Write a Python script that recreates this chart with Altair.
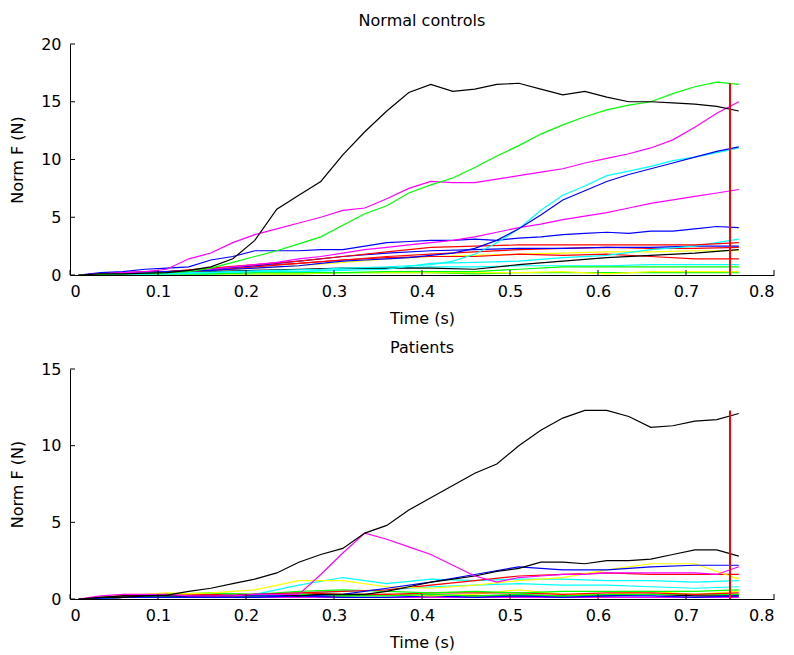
import altair as alt
import pandas as pd

# ---------------- time grids (s) ----------------
t_fine = [0.01, 0.035, 0.06, 0.085, 0.11, 0.135, 0.16, 0.185, 0.21, 0.235,
          0.26, 0.285, 0.31, 0.335, 0.36, 0.385, 0.41, 0.435, 0.46, 0.485,
          0.51, 0.535, 0.56, 0.585, 0.61, 0.635, 0.66, 0.685, 0.71, 0.735, 0.76]
t_coarse = [0.01, 0.06, 0.11, 0.16, 0.21, 0.26, 0.31, 0.36, 0.41, 0.46,
            0.51, 0.56, 0.61, 0.66, 0.71, 0.76]

x_ticks = [0, 0.1, 0.2, 0.3, 0.4, 0.5, 0.6, 0.7, 0.8]
y_ticks_top = [0, 5, 10, 15, 20]
y_ticks_bottom = [0, 5, 10, 15]

vline_t = 0.75
vline_top_nc = 16.6
vline_top_pt = 12.3

# ---------------- Normal controls ----------------
nc_k1 = [0, 0.1, 0.1, 0.15, 0.2, 0.4, 0.7, 1.4, 3.0, 5.7, 6.9, 8.1, 10.4, 12.4, 14.2,
         15.8, 16.5, 15.9, 16.1, 16.5, 16.6, 16.1, 15.6, 15.9, 15.4, 15.0, 15.0, 14.9,
         14.8, 14.6, 14.2]
nc_g1 = [0, 0.05, 0.1, 0.15, 0.2, 0.3, 0.6, 1.1, 1.6, 2.1, 2.7, 3.3, 4.3, 5.3, 6.0,
         7.1, 7.8, 8.4, 9.3, 10.3, 11.2, 12.2, 13.0, 13.7, 14.3, 14.7, 15.0, 15.7,
         16.3, 16.7, 16.5]
nc_m1 = [0, 0.1, 0.2, 0.3, 0.5, 1.4, 1.9, 2.8, 3.5, 4.0, 4.5, 5.0, 5.6, 5.8, 6.6,
         7.5, 8.1, 8.0, 8.0, 8.3, 8.6, 8.9, 9.2, 9.7, 10.1, 10.5, 11.0, 11.7, 12.8,
         14.0, 15.0]
nc_c1 = [0, 0.05, 0.1, 0.1, 0.15, 0.2, 0.25, 0.3, 0.35, 0.4, 0.45, 0.5, 0.6, 0.65,
         0.7, 0.8, 0.9, 1.2, 1.8, 2.8, 4.0, 5.6, 6.9, 7.7, 8.6, 9.0, 9.4, 9.9, 10.2,
         10.6, 11.0]
nc_b1 = [0, 0.1, 0.15, 0.2, 0.3, 0.35, 0.4, 0.5, 0.6, 0.7, 0.8, 1.0, 1.2, 1.3, 1.4,
         1.5, 1.7, 1.9, 2.3, 3.0, 4.0, 5.2, 6.5, 7.3, 8.1, 8.7, 9.2, 9.7, 10.2, 10.7,
         11.1]
nc_m2 = [0, 0.1, 0.15, 0.2, 0.25, 0.3, 0.5, 0.7, 0.9, 1.1, 1.4, 1.6, 1.9, 2.2, 2.4,
         2.6, 2.8, 3.0, 3.3, 3.7, 4.1, 4.4, 4.8, 5.1, 5.4, 5.8, 6.2, 6.5, 6.8, 7.1,
         7.4]
nc_b2 = [0, 0.2, 0.3, 0.5, 0.6, 0.7, 1.3, 1.6, 2.1, 2.1, 2.1, 2.2, 2.2, 2.5, 2.8,
         2.9, 3.0, 3.0, 3.1, 3.0, 3.2, 3.3, 3.5, 3.6, 3.7, 3.6, 3.8, 3.8, 4.0, 4.2,
         4.1]
# minor traces (coarse grid)
nc_r1 = [0, 0.2, 0.3, 0.6, 0.9, 1.2, 1.6, 2.0, 2.4, 2.5, 2.6, 2.6, 2.6, 2.6, 2.6, 2.8]
nc_r2 = [0, 0.2, 0.3, 0.5, 0.8, 1.0, 1.3, 1.5, 1.6, 1.6, 1.8, 1.7, 1.8, 1.6, 1.4, 1.4]
nc_r3 = [0, 0.1, 0.2, 0.4, 0.7, 1.0, 1.3, 1.6, 1.8, 2.0, 2.2, 2.3, 2.4, 2.3, 2.3, 2.4]
nc_k2 = [0, 0.1, 0.2, 0.3, 0.4, 0.5, 0.6, 0.6, 0.6, 0.5, 0.9, 1.2, 1.5, 1.7, 1.9, 2.2]
nc_b3 = [0, 0.2, 0.3, 0.5, 0.8, 1.2, 1.6, 1.9, 2.1, 2.2, 2.3, 2.3, 2.4, 2.4, 2.5, 2.5]
nc_c2 = [0, 0.1, 0.1, 0.2, 0.3, 0.3, 0.4, 0.5, 1.0, 1.1, 1.2, 1.5, 1.7, 2.2, 2.5, 3.1]
nc_y1 = [0, 0.1, 0.2, 0.4, 0.6, 0.8, 1.1, 1.4, 1.6, 1.7, 1.8, 1.9, 2.0, 2.0, 2.1, 2.1]
nc_g2 = [0, 0.05, 0.1, 0.1, 0.2, 0.2, 0.2, 0.3, 0.3, 0.3, 0.5, 0.7, 0.7, 0.7, 0.7, 0.7]
nc_y2 = [0, 0.05, 0.1, 0.1, 0.1, 0.1, 0.2, 0.2, 0.2, 0.2, 0.2, 0.3, 0.1, 0.3, 0.3, 0.3]
nc_c3 = [0, 0.1, 0.1, 0.1, 0.2, 0.3, 0.5, 0.6, 0.7, 0.7, 0.8, 0.8, 0.8, 0.9, 0.9, 0.9]
nc_g3 = [0, 0, 0.1, 0.1, 0.1, 0.1, 0.2, 0.2, 0.2, 0.1, 0.2, 0.2, 0.2, 0.2, 0.2, 0.2]

# ---------------- Patients ----------------
pt_k1 = [0, 0.1, 0.2, 0.2, 0.25, 0.5, 0.7, 1.0, 1.3, 1.7, 2.4, 2.9, 3.3, 4.3, 4.8,
         5.8, 6.6, 7.4, 8.2, 8.8, 10.0, 11.0, 11.8, 12.3, 12.3, 11.9, 11.2, 11.3,
         11.6, 11.7, 12.1]
pt_m1 = [0, 0.2, 0.3, 0.3, 0.3, 0.2, 0.2, 0.2, 0.3, 0.3, 0.3, 1.6, 3.0, 4.3, 3.9,
         3.4, 2.9, 2.2, 1.5, 1.1, 1.4, 1.5, 1.6, 1.6, 1.7, 1.7, 1.7, 1.7, 1.7, 1.6,
         2.1]
pt_k2 = [0, 0.1, 0.1, 0.2, 0.2, 0.2, 0.2, 0.2, 0.3, 0.3, 0.2, 0.3, 0.3, 0.3, 0.5,
         0.8, 1.1, 1.3, 1.5, 1.8, 2.0, 2.4, 2.4, 2.3, 2.5, 2.5, 2.6, 2.9, 3.2, 3.2,
         2.8]
# minor traces (coarse grid)
pt_b1 = [0, 0.1, 0.1, 0.2, 0.2, 0.2, 0.3, 0.7, 1.1, 1.6, 2.1, 1.9, 1.9, 2.1, 2.2, 2.2]
pt_y1 = [0, 0.3, 0.3, 0.4, 0.6, 1.2, 1.2, 0.8, 0.7, 0.9, 1.2, 1.4, 1.9, 2.3, 2.3, 1.3]
pt_c1 = [0, 0.2, 0.2, 0.2, 0.3, 0.9, 1.4, 1.0, 1.3, 1.2, 1.3, 1.3, 1.2, 1.2, 1.1, 1.2]
pt_c2 = [0, 0.1, 0.2, 0.2, 0.3, 0.4, 0.5, 0.6, 0.8, 0.9, 1.0, 0.9, 0.9, 0.8, 0.7, 0.8]
pt_r1 = [0, 0.2, 0.3, 0.2, 0.3, 0.4, 0.5, 0.6, 0.9, 1.2, 1.5, 1.6, 1.7, 1.6, 1.6, 1.6]
pt_r2 = [0, 0.1, 0.2, 0.3, 0.3, 0.4, 0.3, 0.3, 0.4, 0.4, 0.4, 0.3, 0.4, 0.4, 0.3, 0.4]
pt_g1 = [0, 0.2, 0.3, 0.4, 0.3, 0.5, 0.6, 0.5, 0.4, 0.5, 0.4, 0.5, 0.5, 0.5, 0.5, 0.6]
pt_g2 = [0, 0.1, 0.2, 0.2, 0.2, 0.3, 0.2, 0.2, 0.3, 0.2, 0.3, 0.2, 0.3, 0.3, 0.3, 0.3]
pt_y2 = [0, 0.2, 0.4, 0.3, 0.3, 0.3, 0.3, 0.3, 0.2, 0.3, 0.6, 0.3, 0.3, 0.5, 0.3, 0.5]
pt_b2 = [0, 0.1, 0.1, 0.1, 0.1, 0.2, 0.1, 0.1, 0.2, 0.1, 0.2, 0.1, 0.2, 0.2, 0.1, 0.2]
pt_k3 = [0, 0.1, 0.1, 0.2, 0.2, 0.2, 0.2, 0.3, 0.2, 0.2, 0.2, 0.2, 0.2, 0.3, 0.2, 0.2]
pt_m2 = [0, 0.1, 0.1, 0.1, 0.1, 0.1, 0.1, 0.1, 0.1, 0.1, 0.1, 0.1, 0.1, 0.1, 0.1, 0.1]

# MATLAB default line colours
COL = {"b": "#0000FF", "g": "#00FF00", "r": "#FF0000", "c": "#00FFFF",
       "m": "#FF00FF", "y": "#FFFF00", "k": "#000000"}

# (series id, colour key, grid, values) — minor first so big traces are on top
nc_series = [
    ("g3", "g", t_coarse, nc_g3), ("y2", "y", t_coarse, nc_y2), ("c3", "c", t_coarse, nc_c3),
    ("g2", "g", t_coarse, nc_g2), ("y1", "y", t_coarse, nc_y1), ("r2", "r", t_coarse, nc_r2),
    ("k2", "k", t_coarse, nc_k2), ("r3", "r", t_coarse, nc_r3), ("b3", "b", t_coarse, nc_b3),
    ("c2", "c", t_coarse, nc_c2), ("r1", "r", t_coarse, nc_r1), ("b2", "b", t_fine, nc_b2),
    ("m2", "m", t_fine, nc_m2), ("c1", "c", t_fine, nc_c1), ("b1", "b", t_fine, nc_b1),
    ("m1", "m", t_fine, nc_m1), ("g1", "g", t_fine, nc_g1), ("k1", "k", t_fine, nc_k1),
]
pt_series = [
    ("m2", "m", t_coarse, pt_m2), ("k3", "k", t_coarse, pt_k3), ("b2", "b", t_coarse, pt_b2),
    ("y2", "y", t_coarse, pt_y2), ("g2", "g", t_coarse, pt_g2), ("r2", "r", t_coarse, pt_r2),
    ("g1", "g", t_coarse, pt_g1), ("c2", "c", t_coarse, pt_c2), ("c1", "c", t_coarse, pt_c1),
    ("r1", "r", t_coarse, pt_r1), ("y1", "y", t_coarse, pt_y1), ("b1", "b", t_coarse, pt_b1),
    ("k2", "k", t_fine, pt_k2), ("m1", "m", t_fine, pt_m1), ("k1", "k", t_fine, pt_k1),
]

FONT = "DejaVu Sans"
FS = 16
W = 704

# one colour mapping for both panels (series names are unique per panel)
ALL_NAMES = [f"nc{i:02d}_{s[0]}" for i, s in enumerate(nc_series)] + \
            [f"pt{i:02d}_{s[0]}" for i, s in enumerate(pt_series)]
ALL_COLORS = [COL[s[1]] for s in nc_series] + [COL[s[1]] for s in pt_series]


def to_frame(series, prefix):
    rows = []
    for idx, (sid, ck, grid, vals) in enumerate(series):
        for t, v in zip(grid, vals):
            rows.append({"t": t, "v": v, "series": f"{prefix}{idx:02d}_{sid}"})
    return pd.DataFrame(rows)


def panel(series, prefix, title, ymax, yticks, vtop, H, title_offset):
    df = to_frame(series, prefix)
    xs = alt.Scale(domain=[0, 0.8], nice=False)
    ys = alt.Scale(domain=[0, ymax], nice=False)
    xaxis = alt.Axis(values=x_ticks, format="~g", title="Time (s)", ticks=False,
                     grid=False, labelPadding=8, titlePadding=11,
                     titleFontWeight="normal")
    yaxis = alt.Axis(values=yticks, title="Norm F (N)", ticks=False, grid=False,
                     labelPadding=9, titlePadding=15, titleFontWeight="normal")

    lines = alt.Chart(df).mark_line(strokeWidth=1.2, clip=True).encode(
        x=alt.X("t:Q", scale=xs, axis=xaxis),
        y=alt.Y("v:Q", scale=ys, axis=yaxis),
        color=alt.Color("series:N", scale=alt.Scale(domain=ALL_NAMES, range=ALL_COLORS),
                        legend=None),
        order=alt.Order("t:Q"),
    )
    vline = alt.Chart(pd.DataFrame({"t": [vline_t], "v": [0], "v2": [vtop]})).mark_rule(
        color="#FF0000", strokeWidth=2).encode(
        x=alt.X("t:Q", scale=xs, axis=xaxis),
        y=alt.Y("v:Q", scale=ys, axis=yaxis), y2="v2:Q")
    # inward tick marks (MATLAB style), positioned by the scales
    xt = alt.Chart(pd.DataFrame({"t": x_ticks})).mark_rule(color="black", strokeWidth=1).encode(
        x=alt.X("t:Q", scale=xs, axis=xaxis), y=alt.value(H), y2=alt.value(H - 5))
    yt = alt.Chart(pd.DataFrame({"v": yticks})).mark_rule(color="black", strokeWidth=1).encode(
        y=alt.Y("v:Q", scale=ys, axis=yaxis), x=alt.value(0), x2=alt.value(5))
    return alt.layer(lines, vline, xt, yt).properties(
        width=W, height=H,
        title=alt.TitleParams(title, fontSize=FS, font=FONT, fontWeight="normal",
                              color="black", offset=title_offset))


top = panel(nc_series, "nc", "Normal controls", 20, y_ticks_top, vline_top_nc, 231, 7)
bottom = panel(pt_series, "pt", "Patients", 15, y_ticks_bottom, vline_top_pt, 230, 5)

chart = alt.vconcat(top, bottom, spacing=14, background="white",
                    padding={"left": 1, "top": 5, "right": 0, "bottom": 5}).configure_view(
    stroke=None).configure_axis(
    domainColor="black", domainWidth=1, labelColor="black", titleColor="black",
    labelFont=FONT, titleFont=FONT, labelFontSize=FS, titleFontSize=FS,
    titleFontWeight="normal")

chart.save("out.html", embed_options={"renderer": "svg", "actions": False})
